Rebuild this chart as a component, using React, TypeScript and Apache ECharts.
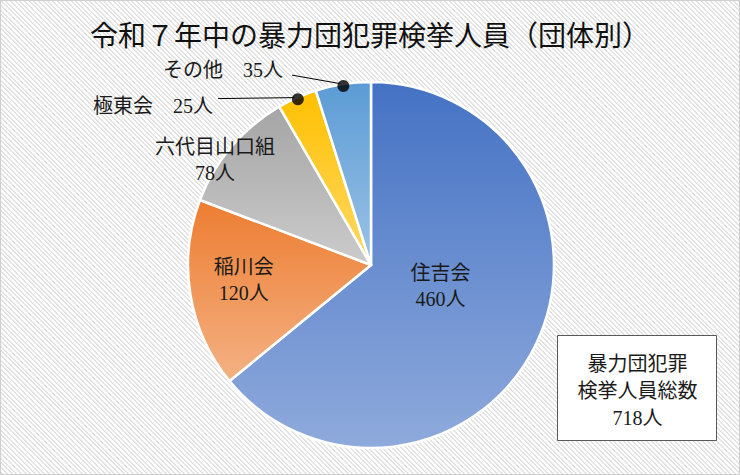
import { useEffect, useRef } from 'react';
import * as echarts from 'echarts';

// 団体別の検挙人員（令和７年中）
const groups = ['住吉会', '稲川会', '六代目山口組', '極東会', 'その他'];
const arrests = [460, 120, 78, 25, 35];
const topColors = ['#4472c4', '#ed7d31', '#a5a5a5', '#ffc000', '#5b9bd5'];
const bottomColors = ['#8faadc', '#f4b183', '#cbcbcb', '#ffd966', '#9dc3e6'];
const outsideGroups = ['極東会', 'その他'];

const TITLE = '令和７年中の暴力団犯罪検挙人員（団体別）';
const TOTAL_LINES = ['暴力団犯罪', '検挙人員総数'];
const FONT = "'Liberation Serif', 'Noto Sans CJK JP', serif";

const CENTER: [number, number] = [371, 265];
const RADIUS = 183;

// label nudges from the default positions (px)
const insideNudge: Record<string, [number, number]> = {
  住吉会: [-16, -19],
  稲川会: [-34, 0],
  六代目山口組: [-84, -44],
};
const outsideNudge: Record<string, { label: [number, number]; line: [number, number] }> = {
  極東会: { label: [-84, 8], line: [-79, 1] },
  その他: { label: [-60, -14], line: [-51, -9] },
};

export default function App() {
  const chartRef = useRef<HTMLDivElement>(null);

  useEffect(() => {
    document.body.style.margin = '0';
    if (!chartRef.current) return;
    const chart = echarts.init(chartRef.current, undefined, { renderer: 'svg' });

    const total = arrests.reduce((a, b) => a + b, 0);

    // mid-point of each slice on the value circle, for the leader-line dots
    let acc = 0;
    const mids = arrests.map((v) => {
      const m = acc + v / 2;
      acc += v;
      return m;
    });
    const dotData = groups
      .map((g, i) => (outsideGroups.includes(g) ? [0.99, mids[i]] : null))
      .filter((d) => d !== null);

    const pieData = groups.map((name, i) => {
      const outside = outsideGroups.includes(name);
      return {
        name,
        value: arrests[i],
        itemStyle: {
          color: new echarts.graphic.LinearGradient(0, 0, 0, 1, [
            { offset: 0, color: topColors[i] },
            { offset: 1, color: bottomColors[i] },
          ]),
        },
        label: outside
          ? { position: 'outside', formatter: '{b}\u3000{c}人' }
          : { position: 'inside', formatter: '{b}\n{c}人' },
        labelLine: outside
          ? { show: true, length: 0, length2: 40, lineStyle: { color: '#000', width: 1 } }
          : { show: false },
      };
    });

    chart.setOption({
      animation: false,
      backgroundColor: 'transparent',
      title: {
        text: TITLE,
        left: 'center',
        top: 15,
        textStyle: {
          fontFamily: "'Noto Sans CJK JP', sans-serif",
          fontSize: 28,
          fontWeight: 'normal',
          color: '#111',
        },
      },
      polar: { center: CENTER, radius: RADIUS },
      angleAxis: {
        type: 'value',
        min: 0,
        max: total,
        startAngle: 90,
        clockwise: true,
        show: false,
      },
      radiusAxis: { type: 'value', min: 0, max: 1, show: false },
      series: [
        {
          type: 'pie',
          center: CENTER,
          radius: RADIUS,
          startAngle: 90,
          clockwise: true,
          avoidLabelOverlap: false,
          data: pieData,
          itemStyle: { borderColor: '#fff', borderWidth: 2.5 },
          emphasis: { disabled: true },
          label: {
            color: '#1a1a1a',
            fontFamily: FONT,
            fontSize: 20,
            lineHeight: 26,
            distanceToLabelLine: 5,
          },
          labelLayout: (p: any) => {
            const name = groups[p.dataIndex];
            const nudge = insideNudge[name];
            if (nudge) return { dx: nudge[0], dy: nudge[1] };
            const o = outsideNudge[name];
            const start = p.labelLinePoints && p.labelLinePoints[0];
            if (!o || !start) return {};
            return {
              x: start[0] + o.label[0],
              y: start[1] + o.label[1],
              align: 'right',
              verticalAlign: 'middle',
              labelLinePoints: [
                [start[0], start[1]],
                [start[0] + o.line[0], start[1] + o.line[1]],
              ],
            };
          },
          z: 1,
        },
        {
          type: 'scatter',
          coordinateSystem: 'polar',
          data: dotData,
          symbol: 'circle',
          symbolSize: 12,
          itemStyle: { color: '#000' },
          silent: true,
          z: 5,
        },
      ],
      graphic: [
        {
          type: 'group',
          right: 23,
          bottom: 34,
          children: [
            {
              type: 'rect',
              shape: { x: 0, y: 0, width: 159, height: 105 },
              style: { fill: '#fff', stroke: '#595959', lineWidth: 1 },
            },
            {
              type: 'text',
              x: 80,
              y: 55,
              style: {
                text: [...TOTAL_LINES, `${total}人`].join('\n'),
                fontFamily: FONT,
                fontSize: 20,
                lineHeight: 27,
                fill: '#1a1a1a',
                align: 'center',
                verticalAlign: 'middle',
              },
            },
          ],
        },
      ],
    });

    return () => {
      chart.dispose();
    };
  }, []);

  return (
    <div
      style={{
        position: 'relative',
        width: 740,
        height: 475,
        boxSizing: 'border-box',
        boxShadow: 'inset 0 0 0 1px #d0d0d0',
        background:
          'repeating-linear-gradient(45deg, #ffffff 0px, #ffffff 2px, #e2e2e2 2px, #e2e2e2 3.3px)',
      }}
    >
      <div ref={chartRef} style={{ position: 'absolute', left: 0, top: 0, width: 740, height: 475 }} />
    </div>
  );
}
